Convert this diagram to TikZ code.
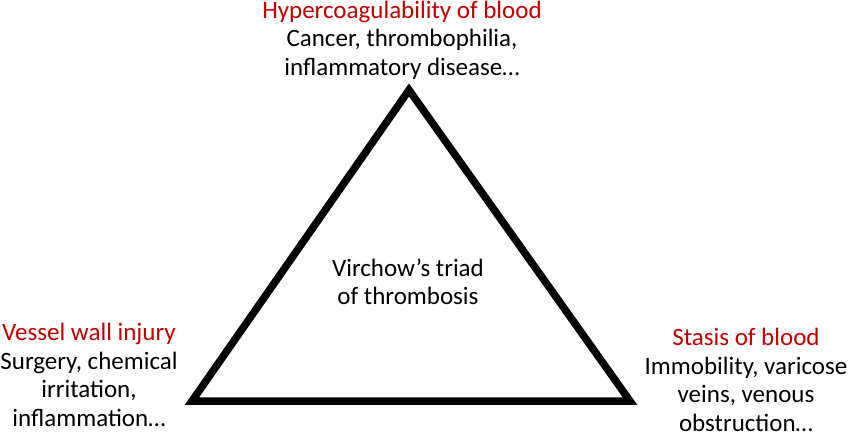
\documentclass[tikz,border=0pt]{standalone}
\usepackage{fontspec}
\setmainfont{Carlito}
\definecolor{darkred}{RGB}{192,0,0}
\begin{document}
\begin{tikzpicture}[x=1pt,y=-1pt,
  lbl/.style={align=center,inner sep=0pt,font=\fontsize{25}{28.5}\selectfont},
  head/.style={text=darkred}]
\useasboundingbox (0,0) rectangle (850,436);
\coordinate (A) at (409,90);
\coordinate (B) at (192,401);
\coordinate (C) at (630,401);
\draw[line width=7.5pt,line join=miter] (A) -- (B) -- (C) -- cycle;
\node[lbl] (top) at (402,40) {\textcolor{darkred}{Hypercoagulability of blood}\\Cancer, thrombophilia,\\inflammatory disease…};
\node[lbl] (left) at (89,375) {\textcolor{darkred}{Vessel wall injury}\\Surgery, chemical\\irritation,\\inflammation…};
\node[lbl] (right) at (746,380) {\textcolor{darkred}{Stasis of blood}\\Immobility, varicose\\veins, venous\\obstruction…};
\node[lbl] (mid) at (408,282) {Virchow’s triad\\of thrombosis};
\end{tikzpicture}
\end{document}
